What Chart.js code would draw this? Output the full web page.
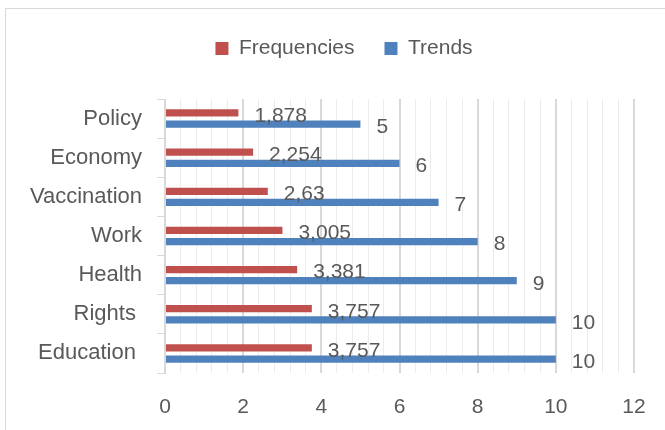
<!DOCTYPE html>
<html><head><meta charset="utf-8">
<script src="https://cdn.jsdelivr.net/npm/chart.js@4"></script>
<style>
html,body{margin:0;padding:0;background:#fff;}
#wrap{position:relative;width:665px;height:430px;overflow:hidden;background:#fff;}
#frame{position:absolute;left:5px;top:8px;width:700px;height:500px;border:1px solid #d9d9d9;box-sizing:border-box;}
canvas{position:absolute;left:0;top:0;}
</style></head><body>
<div id="wrap"><div id="frame"></div><canvas id="c" width="665" height="430"></canvas></div>
<script>
const categories = ['Policy', 'Economy', 'Vaccination', 'Work', 'Health', 'Rights ', 'Education '];
const frequencies = [1.878, 2.254, 2.63, 3.005, 3.381, 3.757, 3.757];
const trends = [5, 6, 7, 8, 9, 10, 10];
const xMin = 0, xMax = 12, majorStep = 2, minorStep = 0.4;

const FONT = '"Liberation Sans", Arial, sans-serif';
const TEXT = '#595959';
const PL = 0, PR = 31, PT = 8, PB = 0;
const LEGEND_H = 91;
const LEGEND_SHIFT = 27;

function isMajor(v){ return Math.abs(v - Math.round(v / majorStep) * majorStep) < 1e-6; }

const legendTweak = {
  id: 'legendTweak',
  beforeLayout(chart){
    const l = chart.legend;
    if (l && !l._patched){
      const f = l.fit;
      l.fit = function(){ f.call(this); this.height = LEGEND_H; };
      l._patched = true;
    }
  },
  afterLayout(chart){
    const l = chart.legend;
    if (l){ l.left += LEGEND_SHIFT; l.right += LEGEND_SHIFT; }
  }
};

const dataLabels = {
  id: 'dataLabels',
  afterDatasetsDraw(chart){
    const ctx = chart.ctx;
    ctx.save();
    ctx.font = '21px ' + FONT;
    ctx.fillStyle = TEXT;
    ctx.textAlign = 'left';
    ctx.textBaseline = 'middle';
    chart.data.datasets.forEach((ds, i) => {
      const meta = chart.getDatasetMeta(i);
      meta.data.forEach((el, j) => {
        ctx.fillText(String(ds.data[j]).replace('.', ','), el.x + 16, el.y + 3);
      });
    });
    ctx.restore();
  }
};

new Chart(document.getElementById('c'), {
  type: 'bar',
  data: {
    labels: categories,
    datasets: [
      { label: 'Frequencies', data: frequencies, backgroundColor: '#c0504d', barPercentage: 0.65, categoryPercentage: 0.57 },
      { label: 'Trends', data: trends, backgroundColor: '#4f81bd', barPercentage: 0.65, categoryPercentage: 0.57 }
    ]
  },
  options: {
    indexAxis: 'y',
    responsive: false,
    animation: false,
    devicePixelRatio: 1,
    layout: { padding: { left: PL, right: PR, top: PT, bottom: PB } },
    plugins: {
      legend: {
        position: 'top',
        labels: { boxWidth: 13, boxHeight: 13, color: TEXT, font: { family: FONT, size: 21 }, padding: 30 }
      },
      tooltip: { enabled: false }
    },
    scales: {
      x: {
        min: xMin, max: xMax,
        border: { display: false },
        grid: {
          drawTicks: true, tickLength: 8, tickColor: 'rgba(0,0,0,0)',
          color: c => (c.tick && isMajor(c.tick.value)) ? '#d9d9d9' : '#ececec',
          lineWidth: c => (c.tick && isMajor(c.tick.value)) ? 2 : 1
        },
        ticks: {
          stepSize: minorStep, autoSkip: false, maxRotation: 0, padding: 14,
          color: TEXT, font: { family: FONT, size: 21 },
          callback: v => isMajor(v) ? String(Math.round(v)) : ''
        },
        afterFit: s => { s.height = 430 - 373 - PB; }
      },
      y: {
        border: { display: true, color: '#d9d9d9', width: 1 },
        grid: { drawOnChartArea: false, tickLength: 8, color: '#d9d9d9', offset: true },
        ticks: { color: TEXT, font: { family: FONT, size: 22 }, padding: 15 },
        afterFit: s => { s.width = 165 - PL; }
      }
    }
  },
  plugins: [legendTweak, dataLabels]
});
</script>
</body></html>
